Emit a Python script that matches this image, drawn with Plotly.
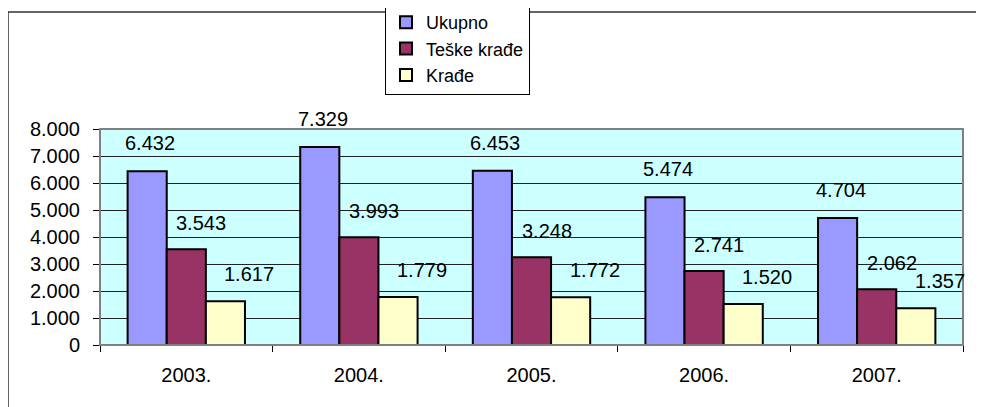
import plotly.graph_objects as go

years = ["2003.", "2004.", "2005.", "2006.", "2007."]
series_names = ["Ukupno", "Teške krađe", "Krađe"]
ukupno = [6432, 7329, 6453, 5474, 4704]
teske_krade = [3543, 3993, 3248, 2741, 2062]
krade = [1617, 1779, 1772, 1520, 1357]
y_ticks = [0, 1000, 2000, 3000, 4000, 5000, 6000, 7000, 8000]

series_values = [ukupno, teske_krade, krade]
colors = ["#9999FF", "#993366", "#FFFFCC"]
label_xshift = [3, 15, 24]
label_yshift = [15, 13, 14]

FONT = "Liberation Sans, Arial, sans-serif"

# page body has an 8px margin; figure geometry below is in figure pixels
ML, MR, MT, MB = 92, 29, 121, 70
W, H = 984, 407
PW, PH = W - ML - MR, H - MT - MB


def fmt(v):
    return f"{v:,}".replace(",", ".")


fig = go.Figure()
for name, vals, col in zip(series_names, series_values, colors):
    fig.add_trace(go.Bar(
        x=years, y=vals, name=name,
        marker=dict(color=col, line=dict(color="#000000", width=2)),
        hoverinfo="x+y",
    ))

bargap = 0.32
bar_frac = (1 - bargap) / len(series_names)

annotations = []
for si, vals in enumerate(series_values):
    for xi, v in enumerate(vals):
        annotations.append(dict(
            x=xi + (si - 1) * bar_frac, y=v, xref="x", yref="y",
            text=fmt(v), showarrow=False,
            xanchor="center", yanchor="bottom",
            xshift=label_xshift[si],
            yshift=label_yshift[si],
            font=dict(family=FONT, size=20, color="#000000"),
        ))

fig.update_layout(
    width=W, height=H,
    margin=dict(l=ML, r=MR, t=MT, b=MB, autoexpand=False),
    paper_bgcolor="#FFFFFF",
    plot_bgcolor="#CCFFFF",
    barmode="group",
    bargap=bargap,
    bargroupgap=0,
    separators=",.",
    font=dict(family=FONT, size=20, color="#000000"),
    showlegend=True,
    legend=dict(
        x=(377 - ML) / PW, xanchor="left",
        y=1 + (MT + 5) / PH, yanchor="top",
        bgcolor="#FFFFFF", bordercolor="#000000", borderwidth=1,
        font=dict(family=FONT, size=18, color="#000000"),
        tracegroupgap=0, itemwidth=30,
    ),
    annotations=annotations,
    shapes=[
        dict(type="rect", xref="paper", yref="paper",
             x0=(0 - ML) / PW, x1=1.2, y0=-0.5, y1=1 + (MT - 4) / PH,
             line=dict(color="#333333", width=1.5), layer="below"),
        dict(type="rect", xref="paper", yref="paper",
             x0=0, x1=1, y0=0, y1=1,
             line=dict(color="#808080", width=2), layer="above"),
    ],
    xaxis=dict(
        type="category",
        range=[-0.5, len(years) - 0.5],
        showline=True, linecolor="#000000", linewidth=1,
        ticks="outside", tickson="boundaries", ticklen=6, tickcolor="#000000",
        showgrid=False,
        tickfont=dict(family=FONT, size=20, color="#000000"),
        ticklabelstandoff=12,
    ),
    yaxis=dict(
        range=[0, 8000],
        tickvals=y_ticks,
        tickformat=",.0f",
        showline=True, linecolor="#000000", linewidth=1,
        ticks="outside", ticklen=6, tickcolor="#000000",
        showgrid=True, gridcolor="#222222", gridwidth=1,
        zeroline=False,
        tickfont=dict(family=FONT, size=20, color="#000000"),
        ticklabelstandoff=9,
    ),
)

fig.write_html("out.html")
